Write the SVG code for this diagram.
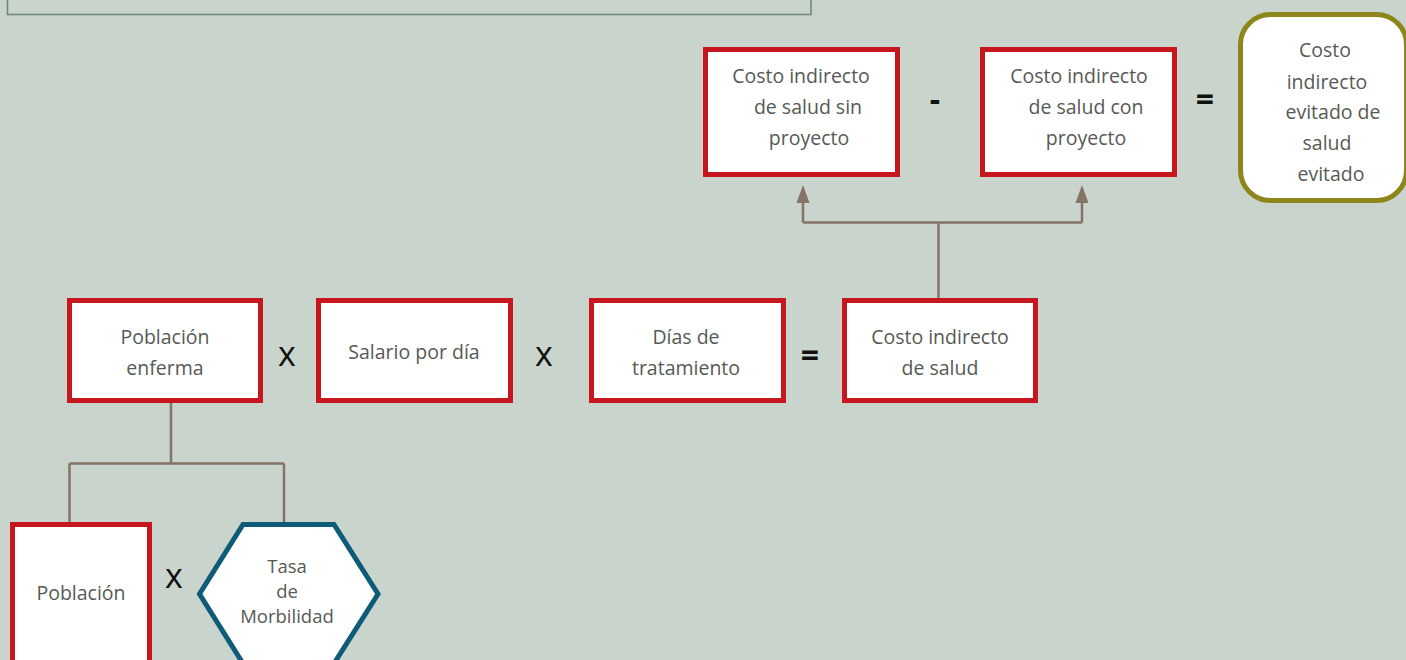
<svg xmlns="http://www.w3.org/2000/svg" width="1406" height="660" viewBox="0 0 1406 660">
<style>
.box{fill:#ffffff;stroke:#c8161e;stroke-width:5}
.hex{fill:#ffffff;stroke:#0e5b79;stroke-width:5}
.res{fill:#ffffff;stroke:#8c861b;stroke-width:5}
.t{font-family:"Open Sans","Noto Sans","Liberation Sans",sans-serif;font-size:19.5px;fill:#555a55;text-anchor:middle}
.ts{font-family:"Open Sans","Noto Sans","Liberation Sans",sans-serif;font-size:18.5px;fill:#555a55;text-anchor:middle}
.op{font-family:"Open Sans","Liberation Sans",sans-serif;font-size:34px;font-weight:500;fill:#111111;text-anchor:middle}
.eq{font-family:"Open Sans","Liberation Sans",sans-serif;font-size:32px;font-weight:700;fill:#111111;text-anchor:middle}
.c{fill:none;stroke:#857365;stroke-width:2.5}
</style>
<rect x="0" y="0" width="1406" height="660" fill="#c9d5cc"/>
<rect x="7.5" y="-20" width="803.5" height="34.5" fill="none" stroke="#6f8a7b" stroke-width="1.6"/>
<g id="connectors">
<path class="c" d="M938.5 298 V222.5 M803 222.5 H1082 M803 222.5 V200 M1082 222.5 V200"/>
<path d="M803 185 L809.5 203 L796.5 203 Z" fill="#857365"/>
<path d="M1082 185 L1088.5 203 L1075.5 203 Z" fill="#857365"/>
<path class="c" d="M171 403 V463.5 M69.5 463.5 H284 M69.5 463.5 V522 M284 463.5 V522"/>
</g>
<g id="n-sin">
<rect class="box" x="705.5" y="49.5" width="192" height="125"/>
<text class="t" x="801" y="83">Costo indirecto</text>
<text class="t" x="808" y="114">de salud sin</text>
<text class="t" x="809" y="145">proyecto</text>
</g>
<g id="n-con">
<rect class="box" x="982.5" y="49.5" width="192" height="125"/>
<text class="t" x="1079" y="83">Costo indirecto</text>
<text class="t" x="1086" y="114">de salud con</text>
<text class="t" x="1086" y="145">proyecto</text>
</g>
<g id="n-evitado">
<rect class="res" x="1240.5" y="14.5" width="166" height="186" rx="30" ry="30"/>
<text class="t" x="1325" y="57">Costo</text>
<text class="t" x="1327" y="89">indirecto</text>
<text class="t" x="1333" y="119">evitado de</text>
<text class="t" x="1327" y="150">salud</text>
<text class="t" x="1331" y="181">evitado</text>
</g>
<g id="n-pobenf">
<rect class="box" x="69.5" y="300.5" width="191" height="100"/>
<text class="t" x="165" y="344">Población</text>
<text class="t" x="165" y="375">enferma</text>
</g>
<g id="n-salario">
<rect class="box" x="318.5" y="300.5" width="192" height="100"/>
<text class="t" x="414" y="359">Salario por día</text>
</g>
<g id="n-dias">
<rect class="box" x="591.5" y="300.5" width="192" height="100"/>
<text class="t" x="686" y="344">Días de</text>
<text class="t" x="686" y="375">tratamiento</text>
</g>
<g id="n-costo">
<rect class="box" x="844.5" y="300.5" width="191" height="100"/>
<text class="t" x="940" y="344">Costo indirecto</text>
<text class="t" x="940" y="375">de salud</text>
</g>
<g id="n-poblacion">
<rect class="box" x="12.5" y="524.5" width="137" height="150"/>
<text class="t" x="81" y="600">Población</text>
</g>
<g id="n-tasa">
<polygon class="hex" points="243,524.5 334,524.5 378,594 334,663.5 243,663.5 199.5,594"/>
<text class="ts" x="287" y="573">Tasa</text>
<text class="ts" x="287" y="598">de</text>
<text class="ts" x="287" y="623">Morbilidad</text>
</g>
<g id="operators">
<text class="op" x="287" y="366">x</text>
<text class="op" x="544" y="366">x</text>
<text class="op" x="174" y="588">x</text>
<text class="eq" x="810" y="367">=</text>
<text class="eq" x="1205" y="111">=</text>
<text class="eq" x="935" y="111">-</text>
</g>
</svg>
